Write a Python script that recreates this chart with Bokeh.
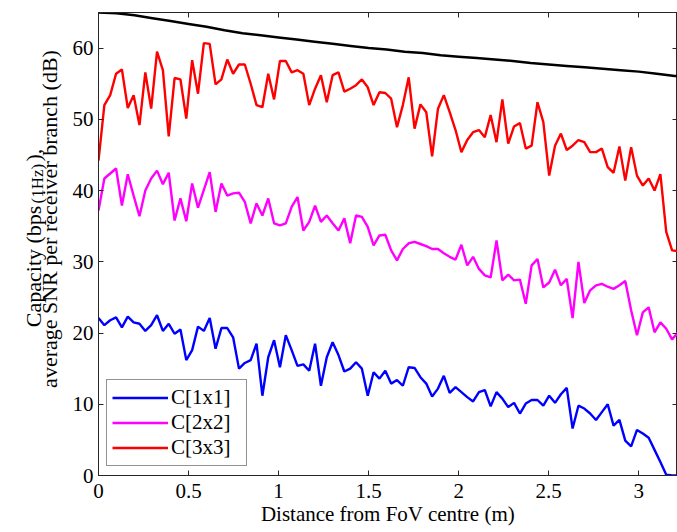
import math
from bokeh.plotting import figure
from bokeh.models import (Range1d, FixedTicker, LinearAxis, Label, Legend,
                          LegendItem, NumeralTickFormatter)
from bokeh.embed import file_html
from bokeh.resources import INLINE

# ---------------- data ----------------
DIST_STEP = 0.0325  # spacing of the distance samples (m)

C1x1 = [22.1, 21.1, 21.8, 22.2, 20.8, 22.3, 21.5, 21.3, 20.3, 21.1,
        22.5, 20.3, 21.3, 19.9, 20.5, 16.2, 17.6, 20.9, 20.3, 22.1,
        17.8, 20.7, 20.7, 19.4, 15.0, 15.8, 16.2, 18.5, 11.2, 16.6,
        19.0, 15.2, 19.7, 17.6, 15.4, 15.6, 14.7, 18.5, 12.6, 16.6,
        18.7, 16.9, 14.6, 15.0, 15.9, 15.0, 11.2, 14.5, 13.6, 14.7,
        12.9, 13.4, 12.6, 15.2, 15.1, 13.8, 12.9, 11.1, 12.2, 14.0,
        11.6, 12.4, 11.7, 11.0, 10.4, 11.7, 12.0, 9.7, 11.7, 10.8,
        9.6, 10.2, 8.7, 10.1, 10.6, 10.6, 9.8, 11.2, 10.2, 11.4,
        12.3, 6.6, 9.8, 9.4, 8.7, 7.8, 8.9, 10.0, 7.0, 7.8,
        4.9, 4.1, 6.4, 5.9, 5.3, 3.6, 1.9, 0.1, 0.0, 0.0]

C2x2 = [37.2, 41.7, 42.4, 43.1, 37.9, 42.3, 39.3, 36.4, 40.0, 41.7,
        42.8, 40.9, 42.5, 35.8, 38.9, 35.7, 41.0, 37.6, 40.1, 42.6,
        37.0, 41.0, 39.3, 39.6, 39.7, 38.4,
        35.4, 38.2, 36.5, 38.9, 35.4, 35.1, 35.4, 37.7, 39.1, 34.4,
        35.6, 37.9, 35.6, 36.5, 35.4, 34.4, 36.1, 32.6, 36.5, 36.3,
        34.9, 32.3, 33.7, 33.8, 31.6,
        30.2, 31.8, 32.6, 32.8, 32.5, 32.2, 31.8, 31.8, 31.2, 30.7,
        30.3, 32.4, 29.5, 30.7, 29.0, 28.1, 27.8, 33.0, 27.4, 28.2,
        27.4, 27.5, 24.1, 29.5,
        30.4, 26.4, 27.1, 28.9, 26.7, 27.6, 22.1, 30.0, 24.2, 26.0,
        26.7, 26.9, 26.5, 26.2, 26.7, 27.3, 23.2, 19.7, 22.9, 23.6,
        20.1, 21.5, 20.6, 19.1, 20.1]

C3x3 = [44.2, 52.0, 53.4, 56.4, 57.0, 51.6, 53.4, 49.2, 56.6, 51.5,
        59.5, 56.9, 47.6, 55.8, 55.6, 50.1, 58.3, 53.6, 60.7, 60.6,
        54.9, 55.6, 58.4, 56.4, 57.7, 57.7, 55.0,
        52.0, 51.7, 56.4, 52.8, 58.2, 58.2, 56.6, 56.9, 56.4, 52.0,
        54.3, 56.2, 52.4, 56.2, 56.6, 53.9, 54.3, 54.8, 55.6, 54.5,
        52.0, 53.8, 53.7, 52.9, 48.9,
        52.0, 55.9, 48.7, 52.1, 51.0, 44.8, 51.5, 53.4, 51.0, 48.5,
        45.4, 47.1, 48.2, 48.5, 47.5, 50.6, 46.8, 52.8, 46.6, 49.0,
        49.5, 45.9, 46.3, 52.4,
        49.6, 42.1, 46.3, 48.0, 45.7, 46.3, 47.1, 46.8, 45.4, 45.4,
        45.9, 43.3, 42.5, 46.2, 41.4, 46.1, 42.1, 40.7, 41.7, 40.0,
        42.3, 34.2, 31.6, 31.5]

DIST = [round(i * DIST_STEP, 4) for i in range(len(C1x1))]

SNR_X = [0.0, 0.1, 0.2, 0.3, 0.4, 0.5, 0.6, 0.7, 0.8, 0.9, 1.0,
         1.1, 1.2, 1.3, 1.4, 1.5, 1.6, 1.7, 1.8, 1.9, 2.0,
         2.1, 2.2, 2.3, 2.4, 2.5, 2.6, 2.7, 2.8, 2.9, 3.0,
         3.1, 3.2, 3.25]
SNR = [65.0, 64.9, 64.6, 64.2, 63.8, 63.4, 63.0, 62.5, 62.1, 61.8, 61.5,
       61.2, 60.9, 60.6, 60.3, 60.0, 59.8, 59.5, 59.3, 59.0, 58.8,
       58.6, 58.4, 58.2, 57.9, 57.7, 57.5, 57.3, 57.1, 56.9, 56.7,
       56.4, 56.1, 56.0]

X_TICKS = [0, 0.5, 1, 1.5, 2, 2.5, 3]
Y_TICKS = [0, 10, 20, 30, 40, 50, 60]
LEGEND_LABELS = ["C[1x1]", "C[2x2]", "C[3x3]"]
X_TITLE = "Distance from FoV centre (m)"
NBSP = "\u00a0"
Y_TITLE_1 = "Capacity (bps" + NBSP * 8 + "),"
Y_TITLE_1_SUB = "(1Hz)"
Y_TITLE_2 = "average SNR per receiver branch (dB)"

# ---------------- layout / styling ----------------
FONT = "Liberation Serif"
AX = "#262626"
W, H = 677, 532
BORDER_L, BORDER_R, BORDER_T, BORDER_B = 96, 0, 12, 57
X0, X1, Y0, Y1 = 0.0, 3.215, 0.0, 65.0

p = figure(width=W, height=H, output_backend="svg", toolbar_location=None,
           x_range=Range1d(X0, X1), y_range=Range1d(Y0, Y1),
           min_border_left=BORDER_L, min_border_right=BORDER_R,
           min_border_top=BORDER_T, min_border_bottom=BORDER_B)
p.grid.visible = False
p.outline_line_color = AX
p.background_fill_color = "white"
p.border_fill_color = "white"

FRAME_W = W - BORDER_L - BORDER_R
FRAME_H = H - BORDER_T - BORDER_B


def off_x(px):
    """horizontal pixel offset from the frame's left edge -> x value"""
    return X0 + px * (X1 - X0) / FRAME_W


def off_y(px):
    """vertical pixel offset above the frame's bottom edge -> y value"""
    return Y0 + px * (Y1 - Y0) / FRAME_H


def style_axis(ax, ticks, show_labels, standoff):
    ax.ticker = FixedTicker(ticks=ticks)
    ax.major_tick_in = 5
    ax.major_tick_out = 0
    ax.minor_tick_line_color = None
    ax.axis_line_color = AX
    ax.major_tick_line_color = AX
    ax.major_label_text_font = FONT
    ax.major_label_standoff = standoff
    if show_labels:
        ax.major_label_text_font_size = "21px"
        ax.major_label_text_color = "black"
    else:
        ax.major_label_text_font_size = "1px"
        ax.major_label_text_color = None


style_axis(p.xaxis[0], X_TICKS, True, 8)
p.xaxis[0].formatter = NumeralTickFormatter(format="0.[0]")
p.xaxis[0].axis_label = X_TITLE
p.xaxis[0].axis_label_text_font = FONT
p.xaxis[0].axis_label_text_font_size = "21px"
p.xaxis[0].axis_label_text_font_style = "normal"
p.xaxis[0].axis_label_text_color = "black"
p.xaxis[0].axis_label_standoff = 1
style_axis(p.yaxis[0], Y_TICKS, True, 5)

top = LinearAxis()
style_axis(top, X_TICKS, False, 0)
p.add_layout(top, "above")
right = LinearAxis()
style_axis(right, Y_TICKS, False, 0)
p.add_layout(right, "right")

p.line(SNR_X, SNR, color="black", line_width=2.5)
r3 = p.line(DIST, C3x3, color="#ff0000", line_width=2.4)
r2 = p.line(DIST, C2x2, color="#ff00ff", line_width=2.4)
r1 = p.line(DIST, C1x1, color="#0000ff", line_width=2.4)

legend = Legend(items=[LegendItem(label=LEGEND_LABELS[0], renderers=[r1]),
                       LegendItem(label=LEGEND_LABELS[1], renderers=[r2]),
                       LegendItem(label=LEGEND_LABELS[2], renderers=[r3])],
                location=(8, 9), orientation="vertical",
                label_text_font=FONT, label_text_font_size="21px",
                label_text_color="black",
                glyph_width=56, glyph_height=25, label_height=25,
                label_width=70, label_standoff=3, spacing=0,
                padding=5, margin=0,
                border_line_color=AX, border_line_width=1,
                background_fill_color="white", background_fill_alpha=1.0)
p.add_layout(legend)


# y-axis title: two rotated lines (the first with a subscript),
# placed in the left border panel so that they are not clipped
def ylab(text, dx, dy, size):
    return Label(x=off_x(dx), y=off_y(dy), x_units="data", y_units="data",
                 text=text, angle=math.pi / 2, text_align="center",
                 text_baseline="alphabetic", text_font=FONT,
                 text_font_size=size, text_color="black")


p.add_layout(ylab(Y_TITLE_2, -49, 256.5, "22px"), "left")
p.add_layout(ylab(Y_TITLE_1, -65.5, 237.5, "22px"), "left")
p.add_layout(ylab(Y_TITLE_1_SUB, -61, 291.9, "17px"), "left")

open("out.html", "w").write(file_html(p, INLINE))
